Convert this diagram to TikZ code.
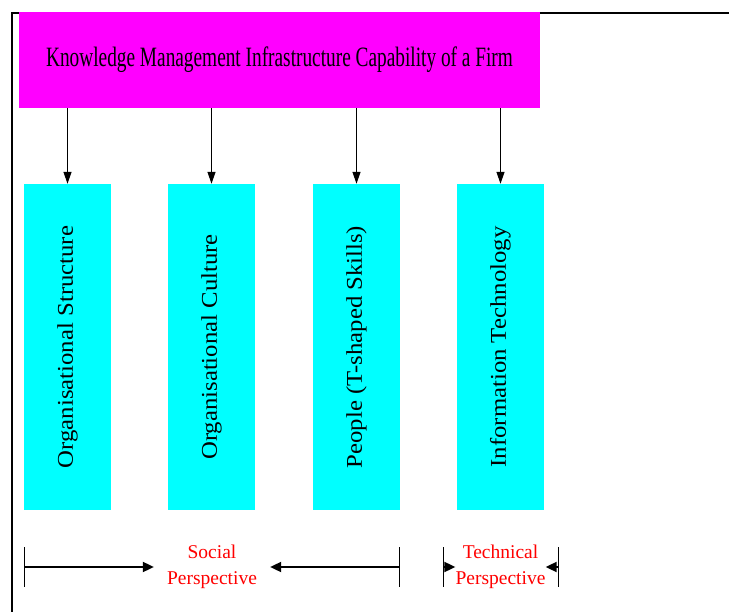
\documentclass[tikz,border=0pt]{standalone}
\usepackage{fontspec}
\setmainfont{Liberation Serif}
\newfontfamily\narrowserif[FakeStretch=0.69]{Liberation Serif}
\newfontfamily\wideserif[FakeStretch=1.1]{Liberation Serif}
\usetikzlibrary{arrows.meta,positioning,calc}
\definecolor{kmmagenta}{HTML}{FF00FF}
\definecolor{kmcyan}{HTML}{00FFFF}
\definecolor{kmred}{HTML}{FF0000}

\begin{document}
\begin{tikzpicture}[
  x=1pt, y=-1pt,
  topbox/.style={rectangle, fill=kmmagenta, minimum width=521pt, minimum height=96pt, inner sep=0pt},
  pillar/.style={rectangle, fill=kmcyan, minimum width=87pt, minimum height=326pt, inner sep=0pt},
  pillartext/.style={rotate=90, font=\wideserif\fontsize{22.5}{24}\selectfont},
  persp/.style={text=kmred, align=center, font=\fontsize{19.5}{26}\selectfont},
  arr/.style={-{Triangle[length=12pt, width=8pt]}, line width=1.2pt},
  barr/.style={-{Triangle[length=11pt, width=10pt]}, line width=1.8pt},
  tick/.style={line width=0.9pt},
  frame/.style={line width=2pt}
]
\useasboundingbox (0,0) rectangle (729,612);

% Frame
\draw[frame] (12,612) -- (12,13) -- (729,13);

% Capability box
\node[topbox] (kmic) at (279.5,60) {\narrowserif\fontsize{28}{30}\selectfont Knowledge Management Infrastructure Capability of a Firm};

% Infrastructure pillars
\node[pillar, label={[pillartext]center:Organisational Structure}] (struct) at (67.5,347) {};
\node[pillar, label={[pillartext]center:Organisational Culture}] (culture) at (211.5,347) {};
\node[pillar, label={[pillartext]center:People (T-shaped Skills)}] (people) at (356.5,347) {};
\node[pillar, label={[pillartext]center:Information Technology}] (tech) at (500.5,347) {};

% Arrows
\foreach \p in {struct, culture, people, tech}
  \draw[arr] (kmic.south -| \p) -- (\p.north);

% Perspectives
\node[persp, inner sep=13pt] (social) at (212,567) {Social\\Perspective};
\node[persp, inner sep=0pt] (technical) at (500.5,567) {Technical\\Perspective};

\coordinate (sl) at (24,567);
\coordinate (sr) at (399,567);
\coordinate (tl) at (443,567);
\coordinate (tr) at (558,567);
\foreach \c in {sl, sr, tl, tr}
  \draw[tick] ($(\c)+(0,-20)$) -- ($(\c)+(0,20)$);

\draw[barr] (sl) -- (social.west);
\draw[barr] (sr) -- (social.east);
\draw[barr] (tl) -- (technical.west);
\draw[barr] (tr) -- (technical.east);

\end{tikzpicture}
\end{document}
